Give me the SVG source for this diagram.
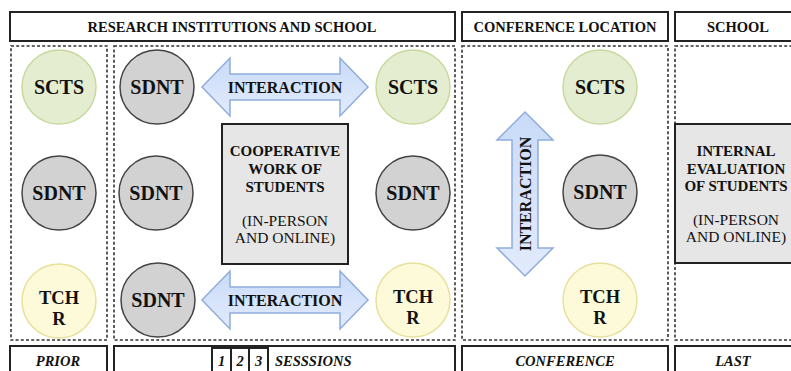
<svg xmlns="http://www.w3.org/2000/svg" width="791" height="371" viewBox="0 0 791 371">
<style>
text{font-family:"Liberation Serif","DejaVu Serif","Times New Roman",serif}
.hdr{fill:#fff;stroke:#222;stroke-width:2}
.dot{fill:none;stroke:#333;stroke-width:1.6;stroke-dasharray:3 2.2}
.t{font-weight:bold;fill:#111;text-anchor:middle}
.h{font-size:14.5px}
.bi{font-size:14.5px;font-style:italic}
.c{font-size:20px}
.c2{font-size:18.5px}
.sdnt{fill:#d2d2d2;stroke:#444;stroke-width:1.5}
.scts{fill:#e5edd0;stroke:#c8d99f;stroke-width:1.5}
.tchr{fill:#fcfad8;stroke:#e7e19c;stroke-width:1.5}
.box{fill:#e6e6e6;stroke:#222;stroke-width:2}
.arr{fill:url(#ag);stroke:#8eacdc;stroke-width:1.5}
.bx{font-size:15px}
.rg{font-weight:normal;font-size:15.5px}
</style>
<defs>
<linearGradient id="ag" x1="0" y1="0" x2="0" y2="1">
<stop offset="0" stop-color="#c9dbf8"/>
<stop offset="1" stop-color="#e2ebfc"/>
</linearGradient>
</defs>
<rect width="791" height="371" fill="#fff"/>

<g id="headers">
<rect class="hdr" x="10" y="12" width="445" height="29"/>
<text class="t h" x="232" y="32">RESEARCH INSTITUTIONS AND SCHOOL</text>
<rect class="hdr" x="462" y="12" width="206" height="29"/>
<text class="t h" x="565" y="32">CONFERENCE LOCATION</text>
<rect class="hdr" x="675" y="12" width="130" height="29"/>
<text class="t h" x="738" y="32">SCHOOL</text>
</g>

<g id="zones">
<rect class="dot" x="11" y="46" width="96" height="294"/>
<rect class="dot" x="114" y="46" width="341" height="294"/>
<rect class="dot" x="462" y="46" width="206" height="294"/>
<rect class="dot" x="675" y="46" width="130" height="294"/>
</g>

<g id="footers">
<rect class="hdr" x="10" y="346" width="97" height="35"/>
<text class="t bi" x="58" y="366">PRIOR</text>
<rect class="hdr" x="114" y="346" width="341" height="35"/>
<rect class="hdr" x="212" y="348" width="19" height="30"/>
<rect class="hdr" x="231" y="348" width="18" height="30"/>
<rect class="hdr" x="249" y="348" width="19" height="30"/>
<text class="t bi" x="221.5" y="366">1</text>
<text class="t bi" x="240" y="366">2</text>
<text class="t bi" x="258.5" y="366">3</text>
<text class="t bi" x="275" y="366" style="text-anchor:start">SESSSIONS</text>
<rect class="hdr" x="462" y="346" width="206" height="35"/>
<text class="t bi" x="565" y="366">CONFERENCE</text>
<rect class="hdr" x="675" y="346" width="130" height="35"/>
<text class="t bi" x="733" y="366">LAST</text>
</g>

<g id="connectors">
<path class="arr" d="M202,87 L230,58 L230,74 L340,74 L340,58 L368,87 L340,116 L340,100 L230,100 L230,116 Z"/>
<text class="t" x="285" y="93" style="font-size:16px">INTERACTION</text>
<path class="arr" d="M202,300 L230,271 L230,287 L340,287 L340,271 L368,300 L340,329 L340,313 L230,313 L230,329 Z"/>
<text class="t" x="285" y="306" style="font-size:16px">INTERACTION</text>
<path class="arr" d="M525,112 L553,140 L538,140 L538,248 L553,248 L525,276 L497,248 L512,248 L512,140 L497,140 Z"/>
<text class="t" transform="translate(531,194) rotate(-90)" style="font-size:16px">INTERACTION</text>
</g>

<g id="n-scts-1"><circle class="scts" cx="59" cy="87" r="37"/><text class="t c" x="59" y="94">SCTS</text></g>
<g id="n-sdnt-1"><circle class="sdnt" cx="59" cy="193" r="37"/><text class="t c" x="59" y="200">SDNT</text></g>
<g id="n-tchr-1"><circle class="tchr" cx="59" cy="301" r="37"/><text class="t c2" x="59" y="304">TCH</text><text class="t c2" x="59" y="325">R</text></g>

<g id="n-sdnt-2"><circle class="sdnt" cx="157" cy="87" r="37"/><text class="t c" x="157" y="94">SDNT</text></g>
<g id="n-sdnt-3"><circle class="sdnt" cx="156" cy="193" r="37"/><text class="t c" x="156" y="200">SDNT</text></g>
<g id="n-sdnt-4"><circle class="sdnt" cx="158" cy="300" r="37"/><text class="t c" x="158" y="307">SDNT</text></g>

<g id="n-coop">
<rect class="box" x="222" y="124" width="126" height="140"/>
<text class="t bx" x="285" y="156">COOPERATIVE</text>
<text class="t bx" x="285" y="174">WORK OF</text>
<text class="t bx" x="285" y="192">STUDENTS</text>
<text class="t rg" x="285" y="226">(IN-PERSON</text>
<text class="t rg" x="285" y="243">AND ONLINE)</text>
</g>

<g id="n-scts-2"><circle class="scts" cx="413" cy="87" r="37"/><text class="t c" x="413" y="94">SCTS</text></g>
<g id="n-sdnt-5"><circle class="sdnt" cx="413" cy="193" r="37"/><text class="t c" x="413" y="200">SDNT</text></g>
<g id="n-tchr-2"><circle class="tchr" cx="413" cy="300" r="37"/><text class="t c2" x="413" y="303">TCH</text><text class="t c2" x="413" y="324">R</text></g>

<g id="n-scts-3"><circle class="scts" cx="600" cy="87" r="37"/><text class="t c" x="600" y="94">SCTS</text></g>
<g id="n-sdnt-6"><circle class="sdnt" cx="600" cy="192" r="37"/><text class="t c" x="600" y="199">SDNT</text></g>
<g id="n-tchr-3"><circle class="tchr" cx="600" cy="300" r="37"/><text class="t c2" x="600" y="303">TCH</text><text class="t c2" x="600" y="324">R</text></g>

<g id="n-eval">
<rect class="box" x="675" y="124" width="130" height="139"/>
<text class="t bx" x="736" y="156">INTERNAL</text>
<text class="t bx" x="736" y="174">EVALUATION</text>
<text class="t bx" x="736" y="191">OF STUDENTS</text>
<text class="t rg" x="736" y="225">(IN-PERSON</text>
<text class="t rg" x="736" y="242">AND ONLINE)</text>
</g>
</svg>
